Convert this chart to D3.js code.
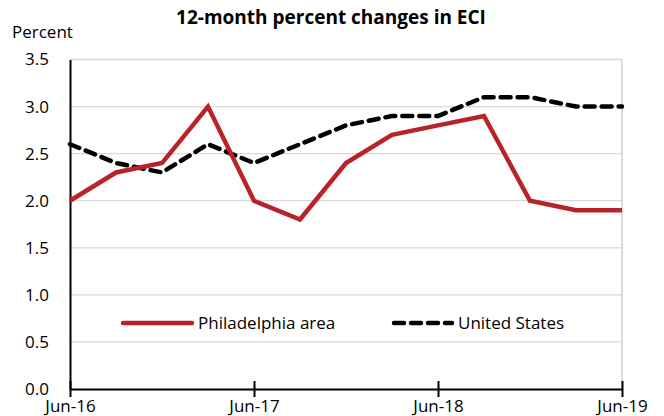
<!DOCTYPE html>
<html>
<head>
<meta charset="utf-8">
<script src="https://cdn.jsdelivr.net/npm/d3@7"></script>
<style>
  body { margin: 0; background: #fff; }
  text { font-family: "Open Sans", Lato, sans-serif; fill: #000; }
</style>
</head>
<body>
<div id="chart"></div>
<script>
// quarterly periods, Jun-16 .. Jun-19
var periods = ["Jun-16", "Sep-16", "Dec-16", "Mar-17", "Jun-17", "Sep-17", "Dec-17",
               "Mar-18", "Jun-18", "Sep-18", "Dec-18", "Mar-19", "Jun-19"];
var philly = [2.0, 2.3, 2.4, 3.0, 2.0, 1.8, 2.4, 2.7, 2.8, 2.9, 2.0, 1.9, 1.9];
var us     = [2.6, 2.4, 2.3, 2.6, 2.4, 2.6, 2.8, 2.9, 2.9, 3.1, 3.1, 3.0, 3.0];
var xTickLabels = ["Jun-16", "Jun-17", "Jun-18", "Jun-19"];
var yTicks = [0, 0.5, 1.0, 1.5, 2.0, 2.5, 3.0, 3.5];

var W = 664, H = 416;
var margin = {top: 59.5, right: 42, bottom: 27, left: 70},
    width = W - margin.left - margin.right,
    height = H - margin.top - margin.bottom;

var svg = d3.select("#chart")
  .append("svg")
    .attr("width", W)
    .attr("height", H);

// title
svg.append("text")
  .attr("x", 331)
  .attr("y", 24)
  .attr("text-anchor", "middle")
  .style("font-size", "19px")
  .style("font-weight", "bold")
  .text("12-month percent changes in ECI");

svg.append("text")
  .attr("x", 12)
  .attr("y", 38)
  .style("font-size", "17px")
  .text("Percent");

var g = svg.append("g")
  .attr("transform", "translate(" + margin.left + "," + margin.top + ")");

var x = d3.scalePoint()
  .domain(periods)
  .range([0, width]);

var y = d3.scaleLinear()
  .domain([0, 3.5])
  .range([height, 0]);

// gridlines
g.append("g")
  .selectAll("line")
  .data(yTicks.filter(function(d) { return d > 0; }))
  .enter()
  .append("line")
    .attr("x1", 0)
    .attr("x2", width)
    .attr("y1", function(d) { return y(d); })
    .attr("y2", function(d) { return y(d); })
    .attr("stroke", "#d9d9d9")
    .attr("stroke-width", 1.3);

// right border
g.append("line")
  .attr("x1", width).attr("x2", width)
  .attr("y1", 0).attr("y2", height)
  .attr("stroke", "#c8c8c8")
  .attr("stroke-width", 1.3);

// y axis
var yAxis = g.append("g")
  .call(d3.axisLeft(y).tickValues(yTicks).tickSize(0).tickPadding(21)
    .tickFormat(d3.format(".1f")));
yAxis.select(".domain").attr("stroke", "#000").attr("stroke-width", 2);
yAxis.selectAll("text").style("font-size", "17px").attr("font-family", null);

// x axis
var xAxis = g.append("g")
  .attr("transform", "translate(0," + height + ")")
  .call(d3.axisBottom(x).tickValues(xTickLabels).tickSize(0).tickPadding(11));
xAxis.select(".domain").attr("stroke", "#000").attr("stroke-width", 2);
xAxis.selectAll("text").style("font-size", "17px").attr("font-family", null);
xAxis.selectAll(".tick line").remove();
xAxis.selectAll(".tick")
  .append("line")
    .attr("y1", -8)
    .attr("y2", 8)
    .attr("stroke", "#000")
    .attr("stroke-width", 2);

var line = d3.line()
  .x(function(d, i) { return x(periods[i]); })
  .y(function(d) { return y(d); });

g.append("path")
  .datum(us)
  .attr("d", line)
  .attr("fill", "none")
  .attr("stroke", "#000")
  .attr("stroke-width", 4.5)
  .attr("stroke-dasharray", "10,7")
  .attr("stroke-linecap", "round");

g.append("path")
  .datum(philly)
  .attr("d", line)
  .attr("fill", "none")
  .attr("stroke", "#b8232a")
  .attr("stroke-width", 4.5)
  .attr("stroke-linejoin", "miter");

// legend
var legend = svg.append("g");
legend.append("line")
  .attr("x1", 123).attr("x2", 192)
  .attr("y1", 323).attr("y2", 323)
  .attr("stroke", "#b8232a")
  .attr("stroke-width", 4.5)
  .attr("stroke-linecap", "round");
legend.append("text")
  .attr("x", 198)
  .attr("y", 329)
  .style("font-size", "17px")
  .text("Philadelphia area");

legend.append("line")
  .attr("x1", 394).attr("x2", 452)
  .attr("y1", 323).attr("y2", 323)
  .attr("stroke", "#000")
  .attr("stroke-width", 4.5)
  .attr("stroke-dasharray", "10,7")
  .attr("stroke-linecap", "round");
legend.append("text")
  .attr("x", 458)
  .attr("y", 329)
  .style("font-size", "17px")
  .text("United States");
</script>
</body>
</html>
